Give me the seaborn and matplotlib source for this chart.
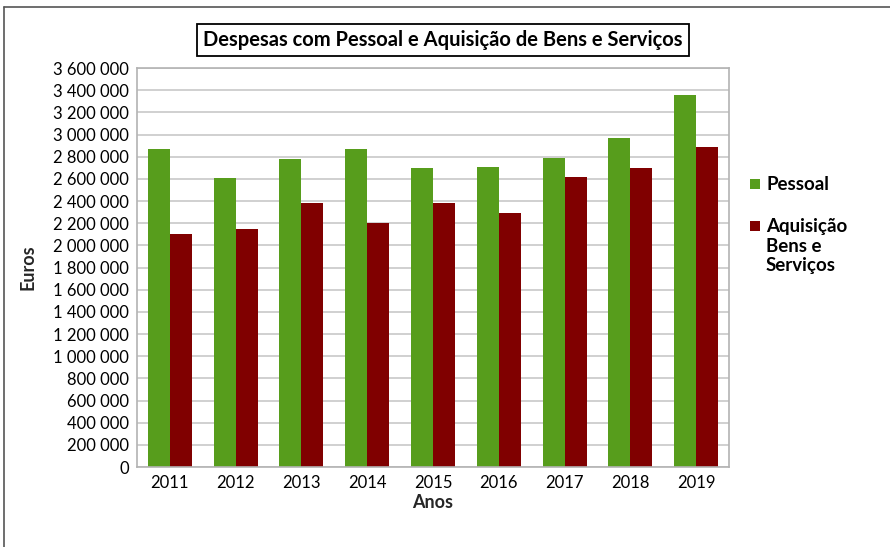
import matplotlib
matplotlib.use("Agg")
import matplotlib.pyplot as plt
from matplotlib.patches import Rectangle
from matplotlib.lines import Line2D
from matplotlib.ticker import FuncFormatter, MultipleLocator
import seaborn as sns
import pandas as pd

anos = ["2011", "2012", "2013", "2014", "2015", "2016", "2017", "2018", "2019"]
pessoal = [2872000, 2610000, 2782000, 2872000, 2701000, 2710000, 2791000, 2971000, 3359000]
aquisicao = [2105000, 2150000, 2385000, 2204000, 2385000, 2295000, 2620000, 2701000, 2890000]
series_names = ["Pessoal", "Aquisição Bens e Serviços"]
legend_labels = ["Pessoal", "Aquisição\nBens e\nServiços"]
colors = ["#579d1c", "#800000"]
title = "Despesas com Pessoal e Aquisição de Bens e Serviços"

df = pd.DataFrame({
    "Ano": anos * 2,
    "Valor": pessoal + aquisicao,
    "Serie": [series_names[0]] * len(anos) + [series_names[1]] * len(anos),
})

sns.set_theme(style="white")
plt.rcParams["font.family"] = ["Lato", "DejaVu Sans"]

W, H = 890, 547
fig = plt.figure(figsize=(W / 100, H / 100), dpi=100)
fig.patch.set_facecolor("white")

L, R, T, B = 137, 729, 68, 467
ax = fig.add_axes([L / W, 1 - B / H, (R - L) / W, (B - T) / H])

sns.barplot(data=df, x="Ano", y="Valor", hue="Serie", palette=colors,
            saturation=1, width=0.67, gap=0, ax=ax, legend=False, linewidth=0)

ax.set_ylim(0, 3600000)
ax.yaxis.set_major_locator(MultipleLocator(200000))
ax.yaxis.set_major_formatter(FuncFormatter(lambda v, p: f"{int(round(v)):,}".replace(",", " ")))
ax.grid(axis="y", color="#c8c8c8", linewidth=1.2)
ax.set_axisbelow(True)
for s in ax.spines.values():
    s.set_color("#b3b3b3")
    s.set_linewidth(1.2)
ax.tick_params(axis="y", length=3, color="#b3b3b3", labelsize=12, pad=3)
ax.tick_params(axis="x", length=0, labelsize=12, pad=6)
for lab in ax.get_xticklabels() + ax.get_yticklabels():
    lab.set_color("#000000")

ax.set_xlabel("Anos", fontsize=13, fontweight="bold", labelpad=2)
ax.set_ylabel("Euros", fontsize=13, fontweight="bold", labelpad=12)

# Title in box
fig.text(443 / W, 1 - 40 / H, title, ha="center", va="center", fontsize=14.5,
         fontweight="bold", color="black",
         bbox=dict(boxstyle="square,pad=0.3", fc="white", ec="black", lw=1.3))

# Legend
lx, tx = 750 / W, 766 / W
ys = [184, 226]
for c, lab, y in zip(colors, legend_labels, ys):
    fig.patches.append(Rectangle((lx, 1 - (y + 5) / H), 10 / W, 10 / H,
                                 transform=fig.transFigure, fc=c, ec="none"))
    fig.text(tx, 1 - (y - 8) / H, lab, ha="left", va="top", fontsize=13.5,
             fontweight="bold", color="#000000", linespacing=1.18)

# Outer frame (left and top)
fig.add_artist(Line2D([4 / W, 4 / W], [0, 1 - 7 / H], transform=fig.transFigure,
                      color="#555555", lw=1.2))
fig.add_artist(Line2D([4 / W, 1], [1 - 7 / H, 1 - 7 / H], transform=fig.transFigure,
                      color="#555555", lw=1.2))

fig.savefig("out.png", dpi=100, facecolor="white")
